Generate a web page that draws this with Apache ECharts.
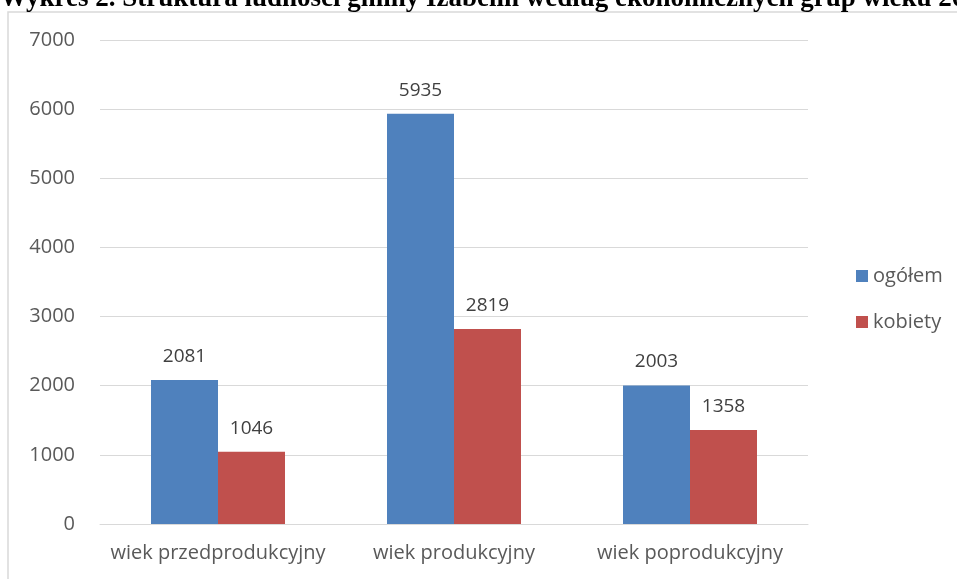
<!DOCTYPE html>
<html><head><meta charset="utf-8">
<script src="https://cdn.jsdelivr.net/npm/echarts@6/dist/echarts.min.js"></script>
<style>html,body{margin:0;padding:0;background:#fff}#c{width:957px;height:579px}</style>
</head><body><div id="c"></div>
<script>
const categories = ['wiek przedprodukcyjny', 'wiek produkcyjny', 'wiek poprodukcyjny'];
const ogolem = [2081, 5935, 2003];
const kobiety = [1046, 2819, 1358];
const seriesNames = ['ogółem', 'kobiety'];
const titleText = 'Wykres 2. Struktura ludności gminy Izabelin według ekonomicznych grup wieku 2019';

const chart = echarts.init(document.getElementById('c'));
const lbl = {show: true, position: 'top', distance: 14, color: '#404040', fontSize: 19, fontFamily: 'Open Sans'};
chart.setOption({
  animation: false,
  graphic: [
    {type: 'rect', shape: {x: 8, y: 12, width: 1000, height: 700}, style: {fill: 'none', stroke: '#d9d9d9', lineWidth: 1.5}},
    {type: 'rect', shape: {x: 0, y: 0, width: 957, height: 11}, style: {fill: '#fff'}, z: 10},
    {type: 'text', left: 0, top: -14, z: 20, style: {text: titleText, font: 'bold 27px "Liberation Serif"', fill: '#000'}}
  ],
  grid: {left: 100, right: 149, top: 40, bottom: 55},
  legend: {
    orient: 'vertical', left: 851, top: 261, itemGap: 26, itemWidth: 12, itemHeight: 12,
    icon: 'rect', textStyle: {fontSize: 20, color: '#595959', fontFamily: 'Open Sans'},
    data: seriesNames
  },
  xAxis: {
    type: 'category', data: categories,
    axisLine: {lineStyle: {color: '#d9d9d9'}}, axisTick: {show: false},
    axisLabel: {color: '#595959', fontSize: 20, fontFamily: 'Open Sans', margin: 19, interval: 0}
  },
  yAxis: {
    type: 'value', min: 0, max: 7000, interval: 1000,
    axisLabel: {color: '#595959', fontSize: 20, fontFamily: 'Open Sans', margin: 25, formatter: v => String(v)},
    splitLine: {lineStyle: {color: '#d9d9d9'}}
  },
  series: [
    {name: seriesNames[0], type: 'bar', data: ogolem, barWidth: 67, barGap: '0%', itemStyle: {color: '#4f81bd'}, label: lbl},
    {name: seriesNames[1], type: 'bar', data: kobiety, barWidth: 67, itemStyle: {color: '#c0504d'}, label: lbl}
  ]
});
</script></body></html>
